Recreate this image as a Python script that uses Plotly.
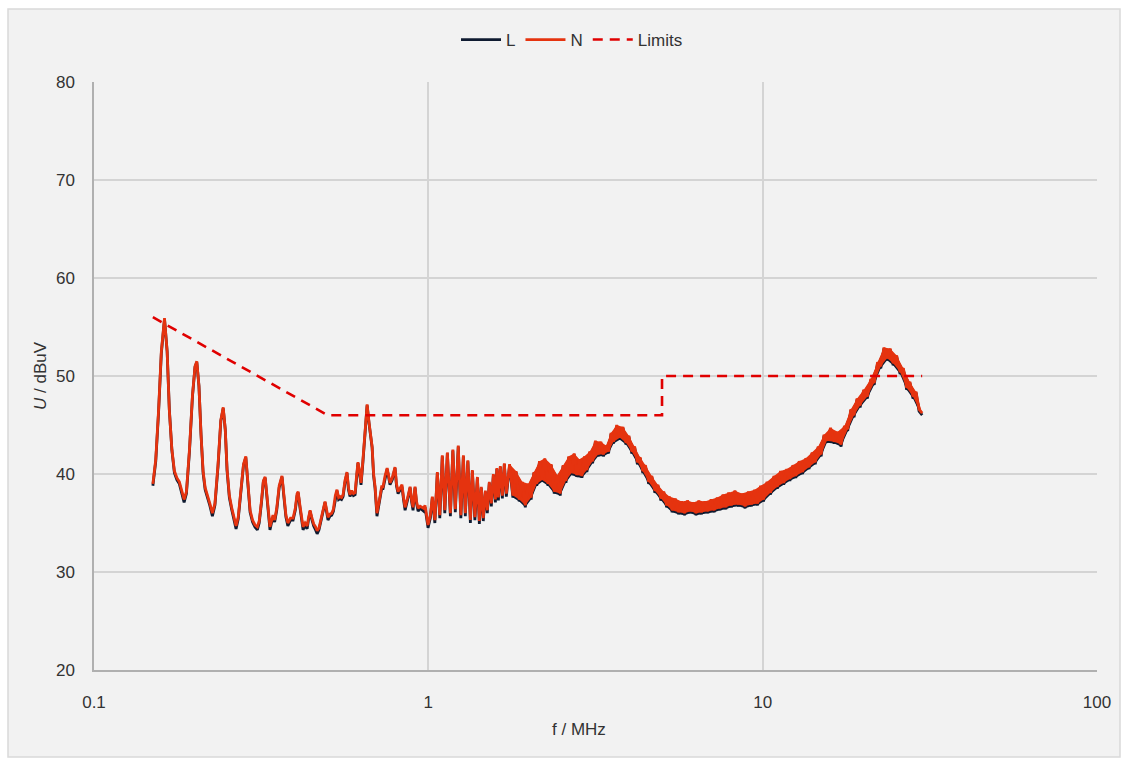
import plotly.graph_objects as go

# ---------------- data ----------------
freq_mhz = [
    0.150, 0.153, 0.156, 0.159, 0.1625, 0.1655, 0.168, 0.171, 0.174, 0.177,
    0.180, 0.183, 0.186, 0.189, 0.193, 0.197, 0.2005, 0.203, 0.206, 0.209,
    0.212, 0.215, 0.218, 0.222, 0.226, 0.230, 0.235, 0.2395, 0.2435, 0.247,
    0.250, 0.254, 0.258, 0.262, 0.266, 0.270, 0.275, 0.280, 0.2845, 0.289,
    0.293, 0.298, 0.303, 0.308, 0.312, 0.317, 0.321, 0.325, 0.329, 0.333,
    0.336, 0.340, 0.343, 0.347, 0.352, 0.358, 0.365, 0.370, 0.375, 0.380,
    0.387, 0.394, 0.400, 0.405, 0.408, 0.413, 0.418, 0.422, 0.428, 0.434,
    0.438, 0.443, 0.448, 0.454, 0.460, 0.465, 0.471, 0.477, 0.484, 0.491,
    0.496, 0.501, 0.508, 0.514, 0.520, 0.527, 0.533, 0.539, 0.544, 0.550,
    0.556, 0.563, 0.571, 0.577, 0.583, 0.590, 0.597, 0.604, 0.610, 0.616,
    0.622, 0.629, 0.636, 0.642, 0.648, 0.656, 0.665, 0.672, 0.679, 0.686,
    0.693, 0.702, 0.710, 0.717, 0.725, 0.732, 0.742, 0.753, 0.768, 0.780,
    0.795, 0.803, 0.812, 0.822, 0.834, 0.843, 0.852, 0.866, 0.882, 0.891,
    0.900, 0.906, 0.9125, 0.922, 0.932, 0.945, 0.958, 0.968, 0.9775, 0.988,
    0.998,
    1.014, 1.028, 1.046, 1.064, 1.082, 1.101, 1.120, 1.140, 1.164, 1.184,
    1.204, 1.229, 1.251, 1.273, 1.290, 1.313, 1.336, 1.354, 1.378, 1.402,
    1.421, 1.440, 1.460, 1.481, 1.501, 1.522, 1.543, 1.565, 1.587, 1.603,
    1.620, 1.642, 1.665, 1.688, 1.711,
    1.75, 1.79, 1.83, 1.87, 1.91, 1.95, 1.99, 2.03, 2.07, 2.11, 2.15, 2.19,
    2.23, 2.28, 2.33, 2.38, 2.43, 2.48, 2.53, 2.58, 2.63, 2.68, 2.73, 2.78,
    2.83, 2.88, 2.93, 2.98,
    3.04, 3.10, 3.16, 3.22, 3.28, 3.34, 3.40, 3.46, 3.52, 3.58,
    3.66, 3.74, 3.82, 3.90, 3.98, 4.06, 4.14, 4.22, 4.30, 4.38,
    4.46, 4.56, 4.66, 4.76, 4.86, 4.96, 5.06, 5.16, 5.26, 5.36,
    5.48, 5.60, 5.72, 5.84, 5.96, 6.08, 6.20, 6.32, 6.44, 6.56,
    6.71, 6.86, 7.01, 7.16, 7.31, 7.46, 7.61, 7.76, 7.91, 8.06,
    8.26, 8.46, 8.66, 8.86, 9.06, 9.26, 9.46, 9.66, 9.86, 10.06,
    10.31, 10.56, 10.81, 11.06, 11.31, 11.56, 11.81, 12.06, 12.31, 12.56,
    12.86, 13.16, 13.46, 13.76, 14.06, 14.36, 14.66, 14.96, 15.26, 15.56,
    15.96, 16.36, 16.76, 17.16, 17.56, 17.96, 18.36, 18.76, 19.16, 19.56,
    20.06, 20.56, 21.06, 21.56, 22.06, 22.56, 23.06, 23.56, 24.06, 24.56,
    25.16, 25.76, 26.36, 26.96, 27.56, 28.16, 28.76, 29.36, 30.0,
]

n_dbuv = [
    39.0, 41.5, 46.5, 52.5, 55.9, 52.5, 46.5, 42.5, 40.3, 39.6,
    39.2, 38.3, 37.4, 38.2, 42.5, 48.0, 51.0, 51.5, 49.0, 44.0,
    40.3, 38.6, 38.0, 37.0, 36.0, 37.0, 41.0, 45.5, 46.8, 44.5,
    40.5, 37.8, 36.6, 35.6, 34.7, 35.6, 38.5, 41.0, 41.8, 39.0,
    36.3, 35.3, 34.8, 34.6, 35.2, 37.3, 39.3, 39.7, 37.8, 35.5,
    34.6, 35.3, 35.8, 35.3, 36.5, 38.8, 39.8, 37.8, 35.8, 35.0,
    35.5, 35.5, 36.5, 38.0, 38.2, 36.8, 35.4, 34.6, 35.0, 34.7,
    35.5, 36.3, 35.6, 34.9, 34.6, 34.2, 34.5, 35.3, 36.3, 37.2,
    36.4, 35.6, 35.9, 36.0, 36.4, 37.8, 38.4, 37.6, 37.7, 37.6,
    37.9, 39.3, 40.2, 38.6, 37.9, 38.3, 38.0, 38.1, 39.8, 41.2,
    40.4, 39.1, 41.0, 42.8, 45.5, 47.1, 45.2, 44.0, 42.8, 40.0,
    38.7, 36.0, 36.8, 37.7, 38.7, 38.7, 39.8, 40.6, 39.1, 39.6,
    40.7, 39.0, 38.2, 38.6, 38.9, 37.6, 36.6, 37.5, 38.7, 37.4,
    36.6, 37.6, 38.7, 37.2, 36.5, 36.7, 36.6, 36.5, 36.8, 35.6,
    34.8,
    35.8, 37.7, 35.3, 40.2, 35.8, 41.9, 36.3, 42.2, 36.0, 42.5,
    36.4, 42.9, 35.8, 41.9, 36.0, 41.4, 35.3, 40.4, 35.6, 39.7,
    35.2, 38.7, 35.5, 38.3, 36.3, 39.2, 37.0, 40.0, 37.4, 40.6,
    37.6, 40.8, 37.8, 41.1, 38.0,
    41.0, 37.8, 40.3, 37.4, 39.2, 36.8, 39.0, 37.6, 40.2, 39.0, 41.3, 39.4,
    41.6, 39.0, 41.0, 38.2, 39.9, 38.0, 40.9, 39.3, 41.8, 40.1, 42.1, 39.9,
    41.5, 39.8, 41.8, 40.4,
    42.3, 41.3, 43.4, 42.0, 43.3, 42.0, 42.9, 42.3, 44.2, 43.3,
    45.0, 43.7, 44.8, 43.2, 43.9, 42.3, 42.8, 41.2, 41.7, 40.3,
    40.9, 39.2, 39.8, 38.3, 38.9, 37.5, 38.2, 36.8, 37.7, 36.3,
    37.5, 36.1, 37.2, 36.0, 37.3, 36.2, 37.1, 36.0, 37.3, 36.1,
    37.2, 36.2, 37.4, 36.3, 37.6, 36.5, 37.9, 36.6, 38.1, 36.8,
    38.3, 36.9, 38.0, 36.7, 38.2, 36.9, 38.4, 37.0, 38.8, 37.4,
    39.2, 38.1, 39.8, 38.7, 40.3, 39.1, 40.5, 39.5, 40.9, 39.8,
    41.3, 40.2, 41.6, 40.7, 42.2, 41.2, 42.8, 42.0, 44.0, 43.4,
    44.7, 43.3, 44.3, 43.0, 44.9, 44.6, 46.6, 46.0, 47.7, 47.0,
    48.6, 47.9, 49.7, 49.3, 51.4, 51.0, 52.9, 51.8, 52.8, 51.3,
    52.1, 50.4, 50.8, 48.8, 49.4, 47.9, 48.4, 46.6, 46.2,
]

l_dbuv = [
    38.8, 41.3, 46.3, 52.3, 55.8, 52.5, 46.6, 42.4, 40.1, 39.4,
    39.0, 38.1, 37.1, 38.0, 42.3, 47.9, 50.9, 51.4, 49.0, 44.0,
    40.1, 38.4, 37.8, 36.8, 35.7, 36.8, 40.8, 45.4, 46.7, 44.5,
    40.4, 37.6, 36.4, 35.4, 34.4, 35.4, 38.3, 40.9, 41.7, 38.9,
    36.1, 35.1, 34.6, 34.3, 35.0, 37.1, 39.2, 39.6, 37.7, 35.3,
    34.3, 35.1, 35.6, 35.1, 36.3, 38.6, 39.7, 37.6, 35.6, 34.7,
    35.3, 35.3, 36.3, 37.8, 38.1, 36.6, 35.2, 34.3, 34.8, 34.4,
    35.3, 36.2, 35.4, 34.7, 34.3, 33.9, 34.3, 35.1, 36.1, 37.1,
    36.2, 35.3, 35.7, 35.8, 36.2, 37.6, 38.3, 37.4, 37.5, 37.4,
    37.7, 39.1, 40.1, 38.4, 37.7, 38.1, 37.8, 37.9, 39.6, 41.1,
    40.2, 38.9, 40.8, 42.7, 45.4, 47.0, 45.1, 43.9, 42.7, 39.8,
    38.5, 35.7, 36.6, 37.5, 38.5, 38.5, 39.6, 40.5, 38.9, 39.4,
    40.6, 38.8, 38.0, 38.4, 38.7, 37.4, 36.3, 37.3, 38.6, 37.2,
    36.3, 37.4, 38.6, 37.0, 36.2, 36.5, 36.3, 36.2, 36.6, 35.3,
    34.5,
    35.5, 37.6, 35.0, 40.1, 35.5, 41.8, 36.0, 42.1, 35.7, 42.4,
    36.1, 42.8, 35.5, 41.8, 35.7, 41.3, 35.0, 40.3, 35.3, 39.6,
    34.9, 38.6, 35.2, 38.2, 36.0, 39.1, 36.7, 39.9, 37.1, 40.5,
    37.3, 40.7, 37.5, 41.0, 37.7,
    40.9, 37.6, 40.2, 37.2, 39.1, 36.6, 38.9, 37.4, 40.1, 38.8, 41.2, 39.2,
    41.5, 38.8, 40.9, 38.0, 39.8, 37.8, 40.8, 39.1, 41.7, 39.9, 42.0, 39.7,
    41.4, 39.6, 41.7, 40.2,
    42.2, 41.1, 43.3, 41.8, 43.2, 41.8, 42.8, 42.1, 44.1, 43.1,
    44.9, 43.5, 44.7, 43.0, 43.8, 42.1, 42.7, 41.0, 41.6, 40.1,
    40.8, 39.0, 39.7, 38.1, 38.8, 37.3, 38.1, 36.6, 37.6, 36.1,
    37.4, 35.9, 37.1, 35.8, 37.2, 36.0, 37.0, 35.8, 37.2, 35.9,
    37.1, 36.0, 37.3, 36.1, 37.5, 36.3, 37.8, 36.4, 38.0, 36.6,
    38.2, 36.7, 37.9, 36.5, 38.1, 36.7, 38.3, 36.8, 38.7, 37.2,
    39.1, 37.9, 39.7, 38.5, 40.2, 38.9, 40.4, 39.3, 40.8, 39.6,
    41.2, 40.0, 41.5, 40.5, 42.1, 41.0, 42.7, 41.8, 43.9, 43.2,
    44.6, 43.1, 44.2, 42.8, 44.8, 44.4, 46.5, 45.8, 47.6, 46.8,
    48.5, 47.7, 49.6, 49.1, 51.3, 50.8, 52.8, 51.6, 52.7, 51.1,
    52.0, 50.2, 50.7, 48.6, 49.3, 47.7, 48.3, 46.4, 46.0,
]

# first frequency of the densely sampled (band-like) part of the sweep
band_start_mhz = 1.75

limit_freq_mhz = [0.15, 0.5, 5.0, 5.0, 30.0]
limit_dbuv = [56, 46, 46, 50, 50]

x_tick_vals = [0.1, 1, 10, 100]
x_tick_text = ["0.1", "1", "10", "100"]
y_tick_vals = [20, 30, 40, 50, 60, 70, 80]

assert len(freq_mhz) == len(n_dbuv) == len(l_dbuv)

# ---------------- figure ----------------
FONT = "Liberation Sans, Arial, sans-serif"
TXT = "#333333"
FS = 17

W, H = 1125, 763
ML, MR, MT, MB = 94, 28, 82, 93
PW, PH = W - ML - MR, H - MT - MB

L_COLOR = "#0f1b31"
N_COLOR = "#e5330f"


def px_to_paper_x(px):
    return (px - ML) / PW


def px_to_paper_y(py):
    return (H - MB - py) / PH


def band_polygon(freqs, vals):
    """Envelope of the dense part: the sweep alternates between local maxima
    and minima there; join the maxima forward and the minima backward."""
    i0 = freqs.index(band_start_mhz)
    fx, fy = freqs[i0:], vals[i0:]
    top_x, top_y = fx[0::2], fy[0::2]
    bot_x, bot_y = fx[1::2], fy[1::2]
    return top_x + bot_x[::-1], top_y + bot_y[::-1]


fig = go.Figure()

lx, ly = band_polygon(freq_mhz, l_dbuv)
fig.add_trace(go.Scatter(
    x=lx, y=ly, mode="lines", fill="toself", fillcolor=L_COLOR,
    line=dict(color=L_COLOR, width=0), showlegend=False, hoverinfo="skip",
))
fig.add_trace(go.Scatter(
    x=freq_mhz, y=l_dbuv, mode="lines", name="L",
    line=dict(color=L_COLOR, width=2.8),
))
nx, ny = band_polygon(freq_mhz, n_dbuv)
fig.add_trace(go.Scatter(
    x=nx, y=ny, mode="lines", fill="toself", fillcolor=N_COLOR,
    line=dict(color=N_COLOR, width=0), showlegend=False, hoverinfo="skip",
))
fig.add_trace(go.Scatter(
    x=freq_mhz, y=n_dbuv, mode="lines", name="N",
    line=dict(color=N_COLOR, width=2.8),
))
fig.add_trace(go.Scatter(
    x=limit_freq_mhz, y=limit_dbuv, mode="lines", name="Limits",
    line=dict(color="#e00000", width=2.6, dash="10px,7px"),
))

fig.update_layout(
    width=W, height=H,
    margin=dict(l=ML, r=MR, t=MT, b=MB, pad=0),
    paper_bgcolor="white",
    plot_bgcolor="#f2f2f2",
    font=dict(family=FONT, size=FS, color=TXT),
    showlegend=True,
    legend=dict(
        orientation="h", x=px_to_paper_x(572), xanchor="center",
        y=px_to_paper_y(40), yanchor="middle",
        bgcolor="rgba(0,0,0,0)", font=dict(family=FONT, size=FS, color=TXT),
        itemwidth=40, tracegroupgap=0,
    ),
    shapes=[dict(
        type="rect", xref="paper", yref="paper", layer="below",
        x0=px_to_paper_x(8), x1=px_to_paper_x(1120),
        y0=px_to_paper_y(757), y1=px_to_paper_y(9),
        fillcolor="#f2f2f2", line=dict(color="#d9d9d9", width=1.5),
    )],
    annotations=[
        dict(text="f / MHz", xref="paper", yref="paper",
             x=px_to_paper_x(579), y=px_to_paper_y(730),
             xanchor="center", yanchor="middle", showarrow=False,
             font=dict(family=FONT, size=FS, color=TXT)),
        dict(text="<i>U</i> / dBuV", xref="paper", yref="paper",
             x=px_to_paper_x(40), y=px_to_paper_y(376), textangle=-90,
             xanchor="center", yanchor="middle", showarrow=False,
             font=dict(family=FONT, size=FS, color=TXT)),
    ],
)

fig.update_xaxes(
    type="log", range=[-1, 2],
    tickvals=x_tick_vals, ticktext=x_tick_text,
    showgrid=True, gridcolor="#d4d4d4", gridwidth=1.5,
    showline=True, linecolor="#b0b0b0", linewidth=1.5,
    ticks="outside", ticklen=16, tickcolor="rgba(0,0,0,0)",
    zeroline=False, tickfont=dict(family=FONT, size=FS, color=TXT),
)
fig.update_yaxes(
    range=[20, 80], tickvals=y_tick_vals,
    showgrid=True, gridcolor="#d4d4d4", gridwidth=1.5,
    showline=True, linecolor="#b0b0b0", linewidth=1.5,
    ticks="outside", ticklen=14, tickcolor="rgba(0,0,0,0)",
    zeroline=False, tickfont=dict(family=FONT, size=FS, color=TXT),
)

fig.write_html(
    "out.html",
    config={"displayModeBar": False},
    post_script="document.body.style.margin='0';document.body.style.overflow='hidden';",
)
